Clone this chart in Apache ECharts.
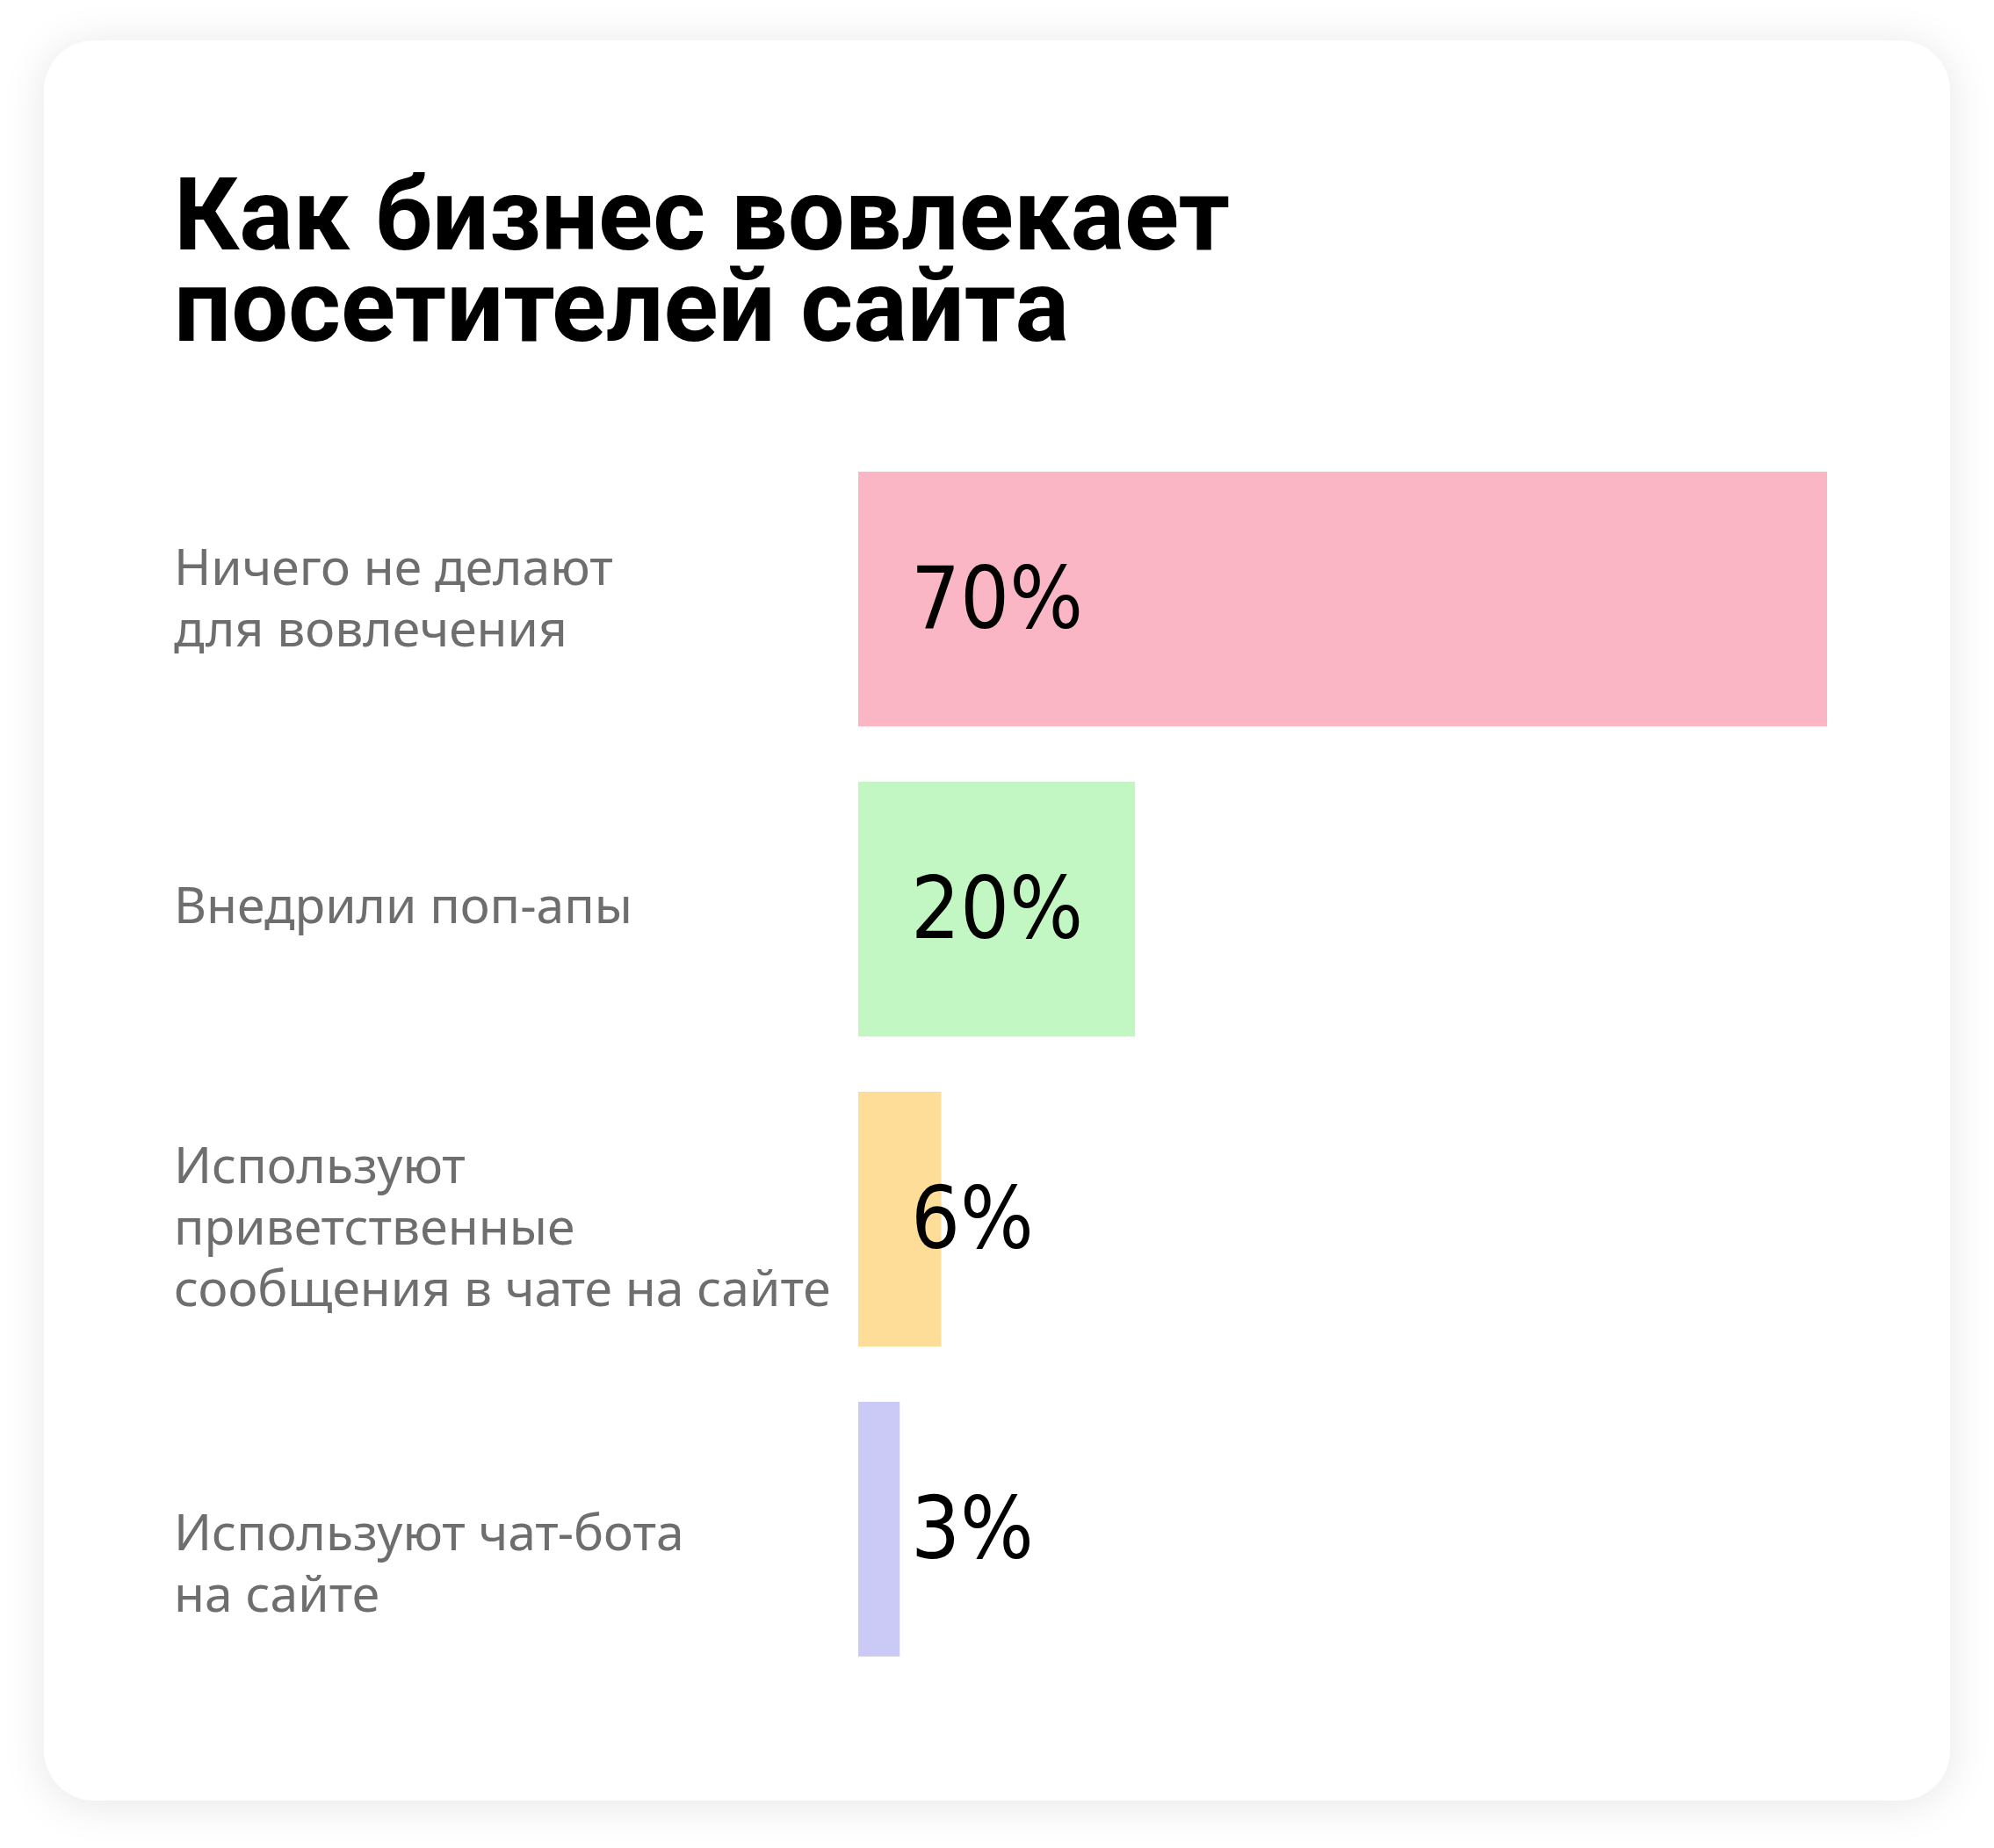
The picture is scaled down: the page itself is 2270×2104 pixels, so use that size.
<!DOCTYPE html>
<html>
<head>
<meta charset="utf-8">
<script src="https://cdn.jsdelivr.net/npm/echarts@6/dist/echarts.min.js"></script>
<style>
  html, body { margin: 0; padding: 0; background: #ffffff; }
  #chart { width: 2270px; height: 2104px; }
</style>
</head>
<body>
<div id="chart"></div>
<script>
  // данные
  const categories = [
    'Ничего не делают\nдля вовлечения',
    'Внедрили поп-апы',
    'Используют\nприветственные\nсообщения в чате на сайте',
    'Используют чат-бота\nна сайте'
  ];
  const values = [70, 20, 6, 3];
  const barColors = ['#fbb6c5', '#c2f6c2', '#fedd99', '#cbcaf7'];
  // подписи в оригинале стоят не строго по центру полосы (сдвиг вниз, px)
  const labelShift = [3, 0, 13, 43];

  const chart = echarts.init(document.getElementById('chart'));

  // пустая верхняя строка нужной высоты сдвигает блок текста вниз
  const rich = { t: {} };
  labelShift.forEach((s, i) => {
    rich['g' + i] = { fontSize: 1, lineHeight: s * 2 };
  });

  const option = {
    backgroundColor: '#ffffff',
    animation: false,
    title: {
      text: 'Как бизнес вовлекает\nпосетителей сайта',
      left: 193,
      top: 198,
      textStyle: {
        fontFamily: 'Roboto',
        fontWeight: 'bold',
        fontSize: 115,
        lineHeight: 104,
        color: '#000000'
      }
    },
    graphic: [
      {
        type: 'rect',
        z: -10,
        shape: { x: 50, y: 46, width: 2170, height: 2004, r: 57 },
        style: {
          fill: '#ffffff',
          shadowBlur: 50,
          shadowColor: 'rgba(0, 0, 0, 0.10)',
          shadowOffsetY: 4
        }
      }
    ],
    grid: {
      left: 977,
      top: 505.5,
      width: 1103,
      height: 1412,
      containLabel: false,
      outerBoundsMode: 'none'
    },
    xAxis: {
      type: 'value',
      min: 0,
      max: 70,
      show: false
    },
    yAxis: {
      type: 'category',
      inverse: true,
      data: categories,
      axisLine: { show: false },
      axisTick: { show: false },
      splitLine: { show: false },
      axisLabel: {
        margin: 779,
        align: 'left',
        fontFamily: 'Noto Sans',
        fontSize: 57,
        lineHeight: 70,
        color: '#6e6e6e',
        rich: rich,
        formatter: (value, index) => {
          const lines = value.split('\n').map((l) => '{t|' + l + '}');
          if (labelShift[index] > 0) {
            lines.unshift('{g' + index + '|\u200b}');
          }
          return lines.join('\n');
        }
      }
    },
    series: [
      {
        type: 'bar',
        barWidth: 290,
        data: values.map((v, i) => ({ value: v, itemStyle: { color: barColors[i] } })),
        label: {
          show: true,
          position: 'insideLeft',
          distance: 60,
          formatter: '{c}%',
          fontFamily: "'DejaVu Sans Condensed', 'DejaVu Sans'",
          fontSize: 98,
          color: '#000000',
          offset: [0, 8]
        }
      }
    ]
  };

  chart.setOption(option);
</script>
</body>
</html>
